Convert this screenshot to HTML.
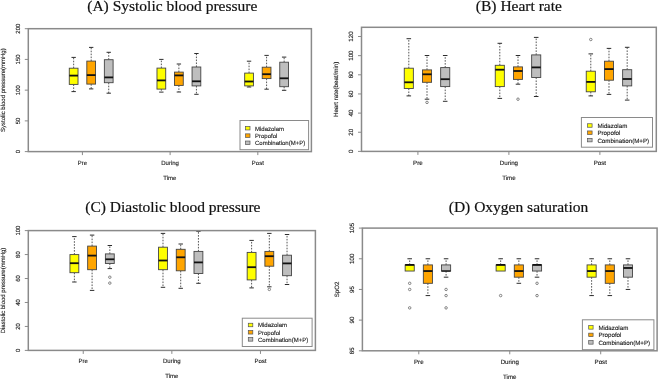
<!DOCTYPE html>
<html><head><meta charset="utf-8"><style>
html,body{margin:0;padding:0;background:#fff;width:658px;height:379px;overflow:hidden}
svg{display:block;will-change:transform;filter:blur(0.3px)}
.ttl{font-family:"Liberation Serif",serif;font-size:15.5px;text-anchor:middle;fill:#111;stroke:#111;stroke-width:0.2}
.sm{font-family:"Liberation Sans",sans-serif;text-rendering:geometricPrecision;text-anchor:middle;fill:#1a1a1a;stroke:#1a1a1a;stroke-width:0.12}
.lt{text-anchor:start}
.wh{stroke:#444;stroke-width:0.9;stroke-dasharray:1.6 1.35}
.cap{stroke:#222;stroke-width:0.95}
.bx{stroke:#444;stroke-width:0.9}
.med{stroke:#111;stroke-width:1.8}
.out{fill:none;stroke:#555;stroke-width:0.7}
.frm{fill:none;stroke:#8a8a8a;stroke-width:1.5}
.tk{stroke:#8a8a8a;stroke-width:1}
.leg{fill:#fff;stroke:#8a8a8a;stroke-width:1.0}
.lsq{stroke:#555;stroke-width:0.7}
</style></head><body>
<svg width="658" height="379" viewBox="0 0 658 379">
<rect width="658" height="379" fill="#fff"/>
<text x="172.3" y="10.6" class="ttl">(A) Systolic blood pressure</text>
<line x1="73.65" y1="68.2" x2="73.65" y2="57.4" class="wh"/>
<line x1="73.65" y1="84.4" x2="73.65" y2="91.6" class="wh"/>
<line x1="71.47" y1="57.4" x2="75.83" y2="57.4" class="cap"/>
<line x1="71.47" y1="91.6" x2="75.83" y2="91.6" class="cap"/>
<rect x="69.28" y="68.2" width="8.74" height="16.2" fill="#ffff00" class="bx"/>
<line x1="69.28" y1="75.6" x2="78.02" y2="75.6" class="med"/>
<line x1="91.19" y1="61.1" x2="91.19" y2="47.4" class="wh"/>
<line x1="91.19" y1="84.1" x2="91.19" y2="88.9" class="wh"/>
<line x1="89.01" y1="47.4" x2="93.37" y2="47.4" class="cap"/>
<line x1="89.01" y1="88.9" x2="93.37" y2="88.9" class="cap"/>
<rect x="86.82" y="61.1" width="8.74" height="23" fill="#ffa500" class="bx"/>
<line x1="86.82" y1="75.1" x2="95.56" y2="75.1" class="med"/>
<line x1="108.73" y1="59.7" x2="108.73" y2="52.3" class="wh"/>
<line x1="108.73" y1="82.7" x2="108.73" y2="93.2" class="wh"/>
<line x1="106.55" y1="52.3" x2="110.91" y2="52.3" class="cap"/>
<line x1="106.55" y1="93.2" x2="110.91" y2="93.2" class="cap"/>
<rect x="104.36" y="59.7" width="8.74" height="23" fill="#bebebe" class="bx"/>
<line x1="104.36" y1="77.4" x2="113.1" y2="77.4" class="med"/>
<line x1="161.35" y1="68.1" x2="161.35" y2="59.4" class="wh"/>
<line x1="161.35" y1="89.1" x2="161.35" y2="92.1" class="wh"/>
<line x1="159.17" y1="59.4" x2="163.53" y2="59.4" class="cap"/>
<line x1="159.17" y1="92.1" x2="163.53" y2="92.1" class="cap"/>
<rect x="156.98" y="68.1" width="8.74" height="21" fill="#ffff00" class="bx"/>
<line x1="156.98" y1="80.4" x2="165.72" y2="80.4" class="med"/>
<line x1="178.89" y1="72.1" x2="178.89" y2="64" class="wh"/>
<line x1="178.89" y1="85.4" x2="178.89" y2="92" class="wh"/>
<line x1="176.71" y1="64" x2="181.07" y2="64" class="cap"/>
<line x1="176.71" y1="92" x2="181.07" y2="92" class="cap"/>
<rect x="174.52" y="72.1" width="8.74" height="13.3" fill="#ffa500" class="bx"/>
<line x1="174.52" y1="75.4" x2="183.26" y2="75.4" class="med"/>
<line x1="196.43" y1="67" x2="196.43" y2="53.5" class="wh"/>
<line x1="196.43" y1="85.9" x2="196.43" y2="94.3" class="wh"/>
<line x1="194.25" y1="53.5" x2="198.61" y2="53.5" class="cap"/>
<line x1="194.25" y1="94.3" x2="198.61" y2="94.3" class="cap"/>
<rect x="192.06" y="67" width="8.74" height="18.9" fill="#bebebe" class="bx"/>
<line x1="192.06" y1="81.3" x2="200.8" y2="81.3" class="med"/>
<line x1="249.05" y1="73.1" x2="249.05" y2="61.2" class="wh"/>
<line x1="249.05" y1="85.9" x2="249.05" y2="87" class="wh"/>
<line x1="246.87" y1="61.2" x2="251.23" y2="61.2" class="cap"/>
<line x1="246.87" y1="87" x2="251.23" y2="87" class="cap"/>
<rect x="244.68" y="73.1" width="8.74" height="12.8" fill="#ffff00" class="bx"/>
<line x1="244.68" y1="81.5" x2="253.42" y2="81.5" class="med"/>
<line x1="266.59" y1="67.2" x2="266.59" y2="55.4" class="wh"/>
<line x1="266.59" y1="78.6" x2="266.59" y2="89.2" class="wh"/>
<line x1="264.41" y1="55.4" x2="268.77" y2="55.4" class="cap"/>
<line x1="264.41" y1="89.2" x2="268.77" y2="89.2" class="cap"/>
<rect x="262.22" y="67.2" width="8.74" height="11.4" fill="#ffa500" class="bx"/>
<line x1="262.22" y1="74.2" x2="270.96" y2="74.2" class="med"/>
<line x1="284.13" y1="62.2" x2="284.13" y2="57.1" class="wh"/>
<line x1="284.13" y1="86.7" x2="284.13" y2="90.3" class="wh"/>
<line x1="281.95" y1="57.1" x2="286.31" y2="57.1" class="cap"/>
<line x1="281.95" y1="90.3" x2="286.31" y2="90.3" class="cap"/>
<rect x="279.76" y="62.2" width="8.74" height="24.5" fill="#bebebe" class="bx"/>
<line x1="279.76" y1="78.3" x2="288.5" y2="78.3" class="med"/>
<rect x="28.3" y="28.7" width="283.1" height="122.9" class="frm"/>
<line x1="24.8" y1="151.6" x2="28.3" y2="151.6" class="tk"/>
<text transform="translate(19.55,151.6) rotate(-90)" class="sm" style="font-size:6.0px">0</text>
<line x1="24.8" y1="120.88" x2="28.3" y2="120.88" class="tk"/>
<text transform="translate(19.55,120.88) rotate(-90)" class="sm" style="font-size:6.0px">50</text>
<line x1="24.8" y1="90.15" x2="28.3" y2="90.15" class="tk"/>
<text transform="translate(19.55,90.15) rotate(-90)" class="sm" style="font-size:6.0px">100</text>
<line x1="24.8" y1="59.42" x2="28.3" y2="59.42" class="tk"/>
<text transform="translate(19.55,59.42) rotate(-90)" class="sm" style="font-size:6.0px">150</text>
<line x1="24.8" y1="28.7" x2="28.3" y2="28.7" class="tk"/>
<text transform="translate(19.55,28.7) rotate(-90)" class="sm" style="font-size:6.0px">200</text>
<text transform="translate(4.7,90.15) rotate(-90)" class="sm" style="font-size:6.0px">Systolic blood pressure(mmHg)</text>
<line x1="82.42" y1="151.6" x2="82.42" y2="155.1" class="tk"/>
<text x="82.42" y="165" class="sm" style="font-size:6.0px">Pre</text>
<line x1="170.12" y1="151.6" x2="170.12" y2="155.1" class="tk"/>
<text x="170.12" y="165" class="sm" style="font-size:6.0px">During</text>
<line x1="257.82" y1="151.6" x2="257.82" y2="155.1" class="tk"/>
<text x="257.82" y="165" class="sm" style="font-size:6.0px">Post</text>
<text x="169.85" y="179.9" class="sm" style="font-size:6.0px">Time</text>
<rect x="240" y="120.5" width="68.6" height="29.2" class="leg"/>
<rect x="245.5" y="126.45" width="4.5" height="3.5" fill="#ffff00" class="lsq"/>
<text x="255" y="130.65" class="sm lt" style="font-size:6.0px">Midazolam</text>
<rect x="245.5" y="133.85" width="4.5" height="3.5" fill="#ffa500" class="lsq"/>
<text x="255" y="138.05" class="sm lt" style="font-size:6.0px">Propofol</text>
<rect x="245.5" y="141.05" width="4.5" height="3.5" fill="#bebebe" class="lsq"/>
<text x="255" y="145.25" class="sm lt" style="font-size:6.0px">Combination(M+P)</text>
<text x="518.9" y="10.6" class="ttl">(B) Heart rate</text>
<line x1="408.81" y1="68.2" x2="408.81" y2="38.7" class="wh"/>
<line x1="408.81" y1="88.5" x2="408.81" y2="95.9" class="wh"/>
<line x1="406.54" y1="38.7" x2="411.09" y2="38.7" class="cap"/>
<line x1="406.54" y1="95.9" x2="411.09" y2="95.9" class="cap"/>
<rect x="404.26" y="68.2" width="9.1" height="20.3" fill="#ffff00" class="bx"/>
<line x1="404.26" y1="82.3" x2="413.36" y2="82.3" class="med"/>
<line x1="427.01" y1="69.9" x2="427.01" y2="55.5" class="wh"/>
<line x1="427.01" y1="82.3" x2="427.01" y2="99.2" class="wh"/>
<line x1="424.74" y1="55.5" x2="429.29" y2="55.5" class="cap"/>
<line x1="424.74" y1="99.2" x2="429.29" y2="99.2" class="cap"/>
<rect x="422.46" y="69.9" width="9.1" height="12.4" fill="#ffa500" class="bx"/>
<line x1="422.46" y1="74.3" x2="431.56" y2="74.3" class="med"/>
<circle cx="427.01" cy="102.4" r="1.25" class="out"/>
<line x1="445.21" y1="67.6" x2="445.21" y2="55.5" class="wh"/>
<line x1="445.21" y1="86.6" x2="445.21" y2="101.3" class="wh"/>
<line x1="442.93" y1="55.5" x2="447.48" y2="55.5" class="cap"/>
<line x1="442.93" y1="101.3" x2="447.48" y2="101.3" class="cap"/>
<rect x="440.66" y="67.6" width="9.1" height="19" fill="#bebebe" class="bx"/>
<line x1="440.66" y1="79.2" x2="449.76" y2="79.2" class="med"/>
<line x1="499.8" y1="65.3" x2="499.8" y2="43.3" class="wh"/>
<line x1="499.8" y1="86.6" x2="499.8" y2="98.4" class="wh"/>
<line x1="497.53" y1="43.3" x2="502.08" y2="43.3" class="cap"/>
<line x1="497.53" y1="98.4" x2="502.08" y2="98.4" class="cap"/>
<rect x="495.25" y="65.3" width="9.1" height="21.3" fill="#ffff00" class="bx"/>
<line x1="495.25" y1="69.7" x2="504.35" y2="69.7" class="med"/>
<line x1="518" y1="66.9" x2="518" y2="55.5" class="wh"/>
<line x1="518" y1="79.4" x2="518" y2="84.2" class="wh"/>
<line x1="515.72" y1="55.5" x2="520.27" y2="55.5" class="cap"/>
<line x1="515.72" y1="84.2" x2="520.27" y2="84.2" class="cap"/>
<rect x="513.45" y="66.9" width="9.1" height="12.5" fill="#ffa500" class="bx"/>
<line x1="513.45" y1="71" x2="522.55" y2="71" class="med"/>
<circle cx="518" cy="99.2" r="1.25" class="out"/>
<line x1="536.2" y1="54.9" x2="536.2" y2="37.4" class="wh"/>
<line x1="536.2" y1="77.5" x2="536.2" y2="96.5" class="wh"/>
<line x1="533.92" y1="37.4" x2="538.47" y2="37.4" class="cap"/>
<line x1="533.92" y1="96.5" x2="538.47" y2="96.5" class="cap"/>
<rect x="531.65" y="54.9" width="9.1" height="22.6" fill="#bebebe" class="bx"/>
<line x1="531.65" y1="67.4" x2="540.75" y2="67.4" class="med"/>
<line x1="590.79" y1="71.2" x2="590.79" y2="53.9" class="wh"/>
<line x1="590.79" y1="91.8" x2="590.79" y2="95.9" class="wh"/>
<line x1="588.51" y1="53.9" x2="593.06" y2="53.9" class="cap"/>
<line x1="588.51" y1="95.9" x2="593.06" y2="95.9" class="cap"/>
<rect x="586.24" y="71.2" width="9.1" height="20.6" fill="#ffff00" class="bx"/>
<line x1="586.24" y1="81.9" x2="595.34" y2="81.9" class="med"/>
<circle cx="590.79" cy="39.5" r="1.25" class="out"/>
<line x1="608.99" y1="61.2" x2="608.99" y2="48.4" class="wh"/>
<line x1="608.99" y1="80.2" x2="608.99" y2="94.4" class="wh"/>
<line x1="606.71" y1="48.4" x2="611.26" y2="48.4" class="cap"/>
<line x1="606.71" y1="94.4" x2="611.26" y2="94.4" class="cap"/>
<rect x="604.44" y="61.2" width="9.1" height="19" fill="#ffa500" class="bx"/>
<line x1="604.44" y1="69.1" x2="613.54" y2="69.1" class="med"/>
<line x1="627.18" y1="69.7" x2="627.18" y2="47.3" class="wh"/>
<line x1="627.18" y1="85.9" x2="627.18" y2="100.1" class="wh"/>
<line x1="624.91" y1="47.3" x2="629.46" y2="47.3" class="cap"/>
<line x1="624.91" y1="100.1" x2="629.46" y2="100.1" class="cap"/>
<rect x="622.63" y="69.7" width="9.1" height="16.2" fill="#bebebe" class="bx"/>
<line x1="622.63" y1="79" x2="631.73" y2="79" class="med"/>
<rect x="361.5" y="27.3" width="294.8" height="124.1" class="frm"/>
<line x1="358" y1="151.4" x2="361.5" y2="151.4" class="tk"/>
<text transform="translate(352.82,151.4) rotate(-90)" class="sm" style="font-size:6.2px">0</text>
<line x1="358" y1="132.25" x2="361.5" y2="132.25" class="tk"/>
<text transform="translate(352.82,132.25) rotate(-90)" class="sm" style="font-size:6.2px">20</text>
<line x1="358" y1="113.1" x2="361.5" y2="113.1" class="tk"/>
<text transform="translate(352.82,113.1) rotate(-90)" class="sm" style="font-size:6.2px">40</text>
<line x1="358" y1="93.95" x2="361.5" y2="93.95" class="tk"/>
<text transform="translate(352.82,93.95) rotate(-90)" class="sm" style="font-size:6.2px">60</text>
<line x1="358" y1="74.8" x2="361.5" y2="74.8" class="tk"/>
<text transform="translate(352.82,74.8) rotate(-90)" class="sm" style="font-size:6.2px">80</text>
<line x1="358" y1="55.65" x2="361.5" y2="55.65" class="tk"/>
<text transform="translate(352.82,55.65) rotate(-90)" class="sm" style="font-size:6.2px">100</text>
<line x1="358" y1="36.5" x2="361.5" y2="36.5" class="tk"/>
<text transform="translate(352.82,36.5) rotate(-90)" class="sm" style="font-size:6.2px">120</text>
<text transform="translate(337.9,89.35) rotate(-90)" class="sm" style="font-size:6.2px">Heart rate(beat/min)</text>
<line x1="417.91" y1="151.4" x2="417.91" y2="154.9" class="tk"/>
<text x="417.91" y="165.1" class="sm" style="font-size:6.2px">Pre</text>
<line x1="508.9" y1="151.4" x2="508.9" y2="154.9" class="tk"/>
<text x="508.9" y="165.1" class="sm" style="font-size:6.2px">During</text>
<line x1="599.89" y1="151.4" x2="599.89" y2="154.9" class="tk"/>
<text x="599.89" y="165.1" class="sm" style="font-size:6.2px">Post</text>
<text x="508.9" y="179.9" class="sm" style="font-size:6.2px">Time</text>
<rect x="581.4" y="117.5" width="71.1" height="29.7" class="leg"/>
<rect x="587.6" y="123.75" width="4.5" height="3.5" fill="#ffff00" class="lsq"/>
<text x="597.4" y="128.02" class="sm lt" style="font-size:6.2px">Midazolam</text>
<rect x="587.6" y="130.95" width="4.5" height="3.5" fill="#ffa500" class="lsq"/>
<text x="597.4" y="135.22" class="sm lt" style="font-size:6.2px">Propofol</text>
<rect x="587.6" y="138.35" width="4.5" height="3.5" fill="#bebebe" class="lsq"/>
<text x="597.4" y="142.62" class="sm lt" style="font-size:6.2px">Combination(M+P)</text>
<text x="172.9" y="211.7" class="ttl">(C) Diastolic blood pressure</text>
<line x1="74.38" y1="254.6" x2="74.38" y2="236.6" class="wh"/>
<line x1="74.38" y1="272.7" x2="74.38" y2="282" class="wh"/>
<line x1="72.16" y1="236.6" x2="76.59" y2="236.6" class="cap"/>
<line x1="72.16" y1="282" x2="76.59" y2="282" class="cap"/>
<rect x="69.95" y="254.6" width="8.86" height="18.1" fill="#ffff00" class="bx"/>
<line x1="69.95" y1="263.2" x2="78.81" y2="263.2" class="med"/>
<line x1="92.1" y1="246.1" x2="92.1" y2="235.1" class="wh"/>
<line x1="92.1" y1="269.7" x2="92.1" y2="290.4" class="wh"/>
<line x1="89.88" y1="235.1" x2="94.32" y2="235.1" class="cap"/>
<line x1="89.88" y1="290.4" x2="94.32" y2="290.4" class="cap"/>
<rect x="87.67" y="246.1" width="8.86" height="23.6" fill="#ffa500" class="bx"/>
<line x1="87.67" y1="255.6" x2="96.53" y2="255.6" class="med"/>
<line x1="109.82" y1="253.9" x2="109.82" y2="245.5" class="wh"/>
<line x1="109.82" y1="263.5" x2="109.82" y2="268.6" class="wh"/>
<line x1="107.61" y1="245.5" x2="112.04" y2="245.5" class="cap"/>
<line x1="107.61" y1="268.6" x2="112.04" y2="268.6" class="cap"/>
<rect x="105.39" y="253.9" width="8.86" height="9.6" fill="#bebebe" class="bx"/>
<line x1="105.39" y1="259.3" x2="114.25" y2="259.3" class="med"/>
<circle cx="109.82" cy="277.2" r="1.25" class="out"/>
<circle cx="109.82" cy="283.1" r="1.25" class="out"/>
<line x1="162.99" y1="247.2" x2="162.99" y2="233.4" class="wh"/>
<line x1="162.99" y1="269.7" x2="162.99" y2="287.3" class="wh"/>
<line x1="160.77" y1="233.4" x2="165.2" y2="233.4" class="cap"/>
<line x1="160.77" y1="287.3" x2="165.2" y2="287.3" class="cap"/>
<rect x="158.56" y="247.2" width="8.86" height="22.5" fill="#ffff00" class="bx"/>
<line x1="158.56" y1="260.5" x2="167.42" y2="260.5" class="med"/>
<line x1="180.71" y1="249.3" x2="180.71" y2="244" class="wh"/>
<line x1="180.71" y1="270.8" x2="180.71" y2="288.3" class="wh"/>
<line x1="178.5" y1="244" x2="182.93" y2="244" class="cap"/>
<line x1="178.5" y1="288.3" x2="182.93" y2="288.3" class="cap"/>
<rect x="176.28" y="249.3" width="8.86" height="21.5" fill="#ffa500" class="bx"/>
<line x1="176.28" y1="257.3" x2="185.14" y2="257.3" class="med"/>
<line x1="198.43" y1="251.4" x2="198.43" y2="231.3" class="wh"/>
<line x1="198.43" y1="273.5" x2="198.43" y2="283.3" class="wh"/>
<line x1="196.22" y1="231.3" x2="200.65" y2="231.3" class="cap"/>
<line x1="196.22" y1="283.3" x2="200.65" y2="283.3" class="cap"/>
<rect x="194" y="251.4" width="8.86" height="22.1" fill="#bebebe" class="bx"/>
<line x1="194" y1="262.4" x2="202.86" y2="262.4" class="med"/>
<line x1="251.6" y1="252.4" x2="251.6" y2="240.4" class="wh"/>
<line x1="251.6" y1="279.9" x2="251.6" y2="287.9" class="wh"/>
<line x1="249.38" y1="240.4" x2="253.82" y2="240.4" class="cap"/>
<line x1="249.38" y1="287.9" x2="253.82" y2="287.9" class="cap"/>
<rect x="247.17" y="252.4" width="8.86" height="27.5" fill="#ffff00" class="bx"/>
<line x1="247.17" y1="267.2" x2="256.03" y2="267.2" class="med"/>
<line x1="269.32" y1="251.4" x2="269.32" y2="233.4" class="wh"/>
<line x1="269.32" y1="266.2" x2="269.32" y2="286.8" class="wh"/>
<line x1="267.11" y1="233.4" x2="271.54" y2="233.4" class="cap"/>
<line x1="267.11" y1="286.8" x2="271.54" y2="286.8" class="cap"/>
<rect x="264.89" y="251.4" width="8.86" height="14.8" fill="#ffa500" class="bx"/>
<line x1="264.89" y1="256.2" x2="273.75" y2="256.2" class="med"/>
<circle cx="269.32" cy="289.4" r="1.25" class="out"/>
<line x1="287.04" y1="255.2" x2="287.04" y2="234.5" class="wh"/>
<line x1="287.04" y1="275.7" x2="287.04" y2="284.5" class="wh"/>
<line x1="284.83" y1="234.5" x2="289.26" y2="234.5" class="cap"/>
<line x1="284.83" y1="284.5" x2="289.26" y2="284.5" class="cap"/>
<rect x="282.61" y="255.2" width="8.86" height="20.5" fill="#bebebe" class="bx"/>
<line x1="282.61" y1="263.4" x2="291.47" y2="263.4" class="med"/>
<rect x="28.3" y="230.6" width="287.1" height="119.8" class="frm"/>
<line x1="24.8" y1="350.4" x2="28.3" y2="350.4" class="tk"/>
<text transform="translate(19.55,350.4) rotate(-90)" class="sm" style="font-size:6.0px">0</text>
<line x1="24.8" y1="326.44" x2="28.3" y2="326.44" class="tk"/>
<text transform="translate(19.55,326.44) rotate(-90)" class="sm" style="font-size:6.0px">20</text>
<line x1="24.8" y1="302.48" x2="28.3" y2="302.48" class="tk"/>
<text transform="translate(19.55,302.48) rotate(-90)" class="sm" style="font-size:6.0px">40</text>
<line x1="24.8" y1="278.52" x2="28.3" y2="278.52" class="tk"/>
<text transform="translate(19.55,278.52) rotate(-90)" class="sm" style="font-size:6.0px">60</text>
<line x1="24.8" y1="254.56" x2="28.3" y2="254.56" class="tk"/>
<text transform="translate(19.55,254.56) rotate(-90)" class="sm" style="font-size:6.0px">80</text>
<line x1="24.8" y1="230.6" x2="28.3" y2="230.6" class="tk"/>
<text transform="translate(19.55,230.6) rotate(-90)" class="sm" style="font-size:6.0px">100</text>
<text transform="translate(4.7,290.5) rotate(-90)" class="sm" style="font-size:6.0px">Diastolic blood pressure(mmHg)</text>
<line x1="83.24" y1="350.4" x2="83.24" y2="353.9" class="tk"/>
<text x="83.24" y="363.3" class="sm" style="font-size:6.0px">Pre</text>
<line x1="171.85" y1="350.4" x2="171.85" y2="353.9" class="tk"/>
<text x="171.85" y="363.3" class="sm" style="font-size:6.0px">During</text>
<line x1="260.46" y1="350.4" x2="260.46" y2="353.9" class="tk"/>
<text x="260.46" y="363.3" class="sm" style="font-size:6.0px">Post</text>
<text x="171.85" y="377.6" class="sm" style="font-size:6.0px">Time</text>
<rect x="242.3" y="318.2" width="69.8" height="28.3" class="leg"/>
<rect x="248.3" y="323.25" width="4.5" height="3.5" fill="#ffff00" class="lsq"/>
<text x="258" y="327.45" class="sm lt" style="font-size:6.0px">Midazolam</text>
<rect x="248.3" y="330.55" width="4.5" height="3.5" fill="#ffa500" class="lsq"/>
<text x="258" y="334.75" class="sm lt" style="font-size:6.0px">Propofol</text>
<rect x="248.3" y="337.65" width="4.5" height="3.5" fill="#bebebe" class="lsq"/>
<text x="258" y="341.85" class="sm lt" style="font-size:6.0px">Combination(M+P)</text>
<text x="518.5" y="211.5" class="ttl">(D) Oxygen saturation</text>
<line x1="409.7" y1="264.91" x2="409.7" y2="258.78" class="wh"/>
<line x1="407.42" y1="258.78" x2="411.97" y2="258.78" class="cap"/>
<rect x="405.15" y="264.91" width="9.1" height="6.13" fill="#ffff00" class="bx"/>
<line x1="405.15" y1="264.91" x2="414.25" y2="264.91" class="med"/>
<circle cx="409.7" cy="283.31" r="1.25" class="out"/>
<circle cx="409.7" cy="289.45" r="1.25" class="out"/>
<circle cx="409.7" cy="307.86" r="1.25" class="out"/>
<line x1="427.89" y1="264.91" x2="427.89" y2="258.78" class="wh"/>
<line x1="427.89" y1="283.31" x2="427.89" y2="295.59" class="wh"/>
<line x1="425.61" y1="258.78" x2="430.16" y2="258.78" class="cap"/>
<line x1="425.61" y1="295.59" x2="430.16" y2="295.59" class="cap"/>
<rect x="423.34" y="264.91" width="9.1" height="18.4" fill="#ffa500" class="bx"/>
<line x1="423.34" y1="271.05" x2="432.44" y2="271.05" class="med"/>
<line x1="446.08" y1="264.91" x2="446.08" y2="258.78" class="wh"/>
<line x1="446.08" y1="271.05" x2="446.08" y2="277.18" class="wh"/>
<line x1="443.81" y1="258.78" x2="448.35" y2="258.78" class="cap"/>
<line x1="443.81" y1="277.18" x2="448.35" y2="277.18" class="cap"/>
<rect x="441.53" y="264.91" width="9.1" height="6.13" fill="#bebebe" class="bx"/>
<line x1="441.53" y1="271.05" x2="450.63" y2="271.05" class="med" style="stroke-width:1.3"/>
<circle cx="446.08" cy="289.45" r="1.25" class="out"/>
<circle cx="446.08" cy="295.59" r="1.25" class="out"/>
<circle cx="446.08" cy="307.86" r="1.25" class="out"/>
<line x1="500.65" y1="264.91" x2="500.65" y2="258.78" class="wh"/>
<line x1="498.38" y1="258.78" x2="502.93" y2="258.78" class="cap"/>
<rect x="496.11" y="264.91" width="9.1" height="6.13" fill="#ffff00" class="bx"/>
<line x1="496.11" y1="264.91" x2="505.2" y2="264.91" class="med"/>
<circle cx="500.65" cy="295.59" r="1.25" class="out"/>
<line x1="518.85" y1="264.91" x2="518.85" y2="258.78" class="wh"/>
<line x1="518.85" y1="277.18" x2="518.85" y2="283.31" class="wh"/>
<line x1="516.57" y1="258.78" x2="521.12" y2="258.78" class="cap"/>
<line x1="516.57" y1="283.31" x2="521.12" y2="283.31" class="cap"/>
<rect x="514.3" y="264.91" width="9.1" height="12.27" fill="#ffa500" class="bx"/>
<line x1="514.3" y1="271.05" x2="523.39" y2="271.05" class="med"/>
<line x1="537.04" y1="264.91" x2="537.04" y2="258.78" class="wh"/>
<line x1="537.04" y1="271.05" x2="537.04" y2="277.18" class="wh"/>
<line x1="534.76" y1="258.78" x2="539.31" y2="258.78" class="cap"/>
<line x1="534.76" y1="277.18" x2="539.31" y2="277.18" class="cap"/>
<rect x="532.49" y="264.91" width="9.1" height="6.13" fill="#bebebe" class="bx"/>
<line x1="532.49" y1="264.91" x2="541.58" y2="264.91" class="med"/>
<circle cx="537.04" cy="283.31" r="1.25" class="out"/>
<circle cx="537.04" cy="295.59" r="1.25" class="out"/>
<line x1="591.61" y1="264.91" x2="591.61" y2="258.78" class="wh"/>
<line x1="591.61" y1="277.18" x2="591.61" y2="295.59" class="wh"/>
<line x1="589.34" y1="258.78" x2="593.89" y2="258.78" class="cap"/>
<line x1="589.34" y1="295.59" x2="593.89" y2="295.59" class="cap"/>
<rect x="587.06" y="264.91" width="9.1" height="12.27" fill="#ffff00" class="bx"/>
<line x1="587.06" y1="271.05" x2="596.16" y2="271.05" class="med"/>
<line x1="609.8" y1="264.91" x2="609.8" y2="258.78" class="wh"/>
<line x1="609.8" y1="283.31" x2="609.8" y2="295.59" class="wh"/>
<line x1="607.53" y1="258.78" x2="612.08" y2="258.78" class="cap"/>
<line x1="607.53" y1="295.59" x2="612.08" y2="295.59" class="cap"/>
<rect x="605.25" y="264.91" width="9.1" height="18.4" fill="#ffa500" class="bx"/>
<line x1="605.25" y1="271.05" x2="614.35" y2="271.05" class="med"/>
<line x1="627.99" y1="264.91" x2="627.99" y2="258.78" class="wh"/>
<line x1="627.99" y1="277.18" x2="627.99" y2="289.45" class="wh"/>
<line x1="625.72" y1="258.78" x2="630.27" y2="258.78" class="cap"/>
<line x1="625.72" y1="289.45" x2="630.27" y2="289.45" class="cap"/>
<rect x="623.45" y="264.91" width="9.1" height="12.27" fill="#bebebe" class="bx"/>
<line x1="623.45" y1="267.98" x2="632.54" y2="267.98" class="med"/>
<rect x="362.4" y="228.1" width="294.7" height="122.7" class="frm"/>
<line x1="358.9" y1="350.8" x2="362.4" y2="350.8" class="tk"/>
<text transform="translate(353.72,350.8) rotate(-90)" class="sm" style="font-size:6.2px">85</text>
<line x1="358.9" y1="320.12" x2="362.4" y2="320.12" class="tk"/>
<text transform="translate(353.72,320.12) rotate(-90)" class="sm" style="font-size:6.2px">90</text>
<line x1="358.9" y1="289.45" x2="362.4" y2="289.45" class="tk"/>
<text transform="translate(353.72,289.45) rotate(-90)" class="sm" style="font-size:6.2px">95</text>
<line x1="358.9" y1="258.77" x2="362.4" y2="258.77" class="tk"/>
<text transform="translate(353.72,258.77) rotate(-90)" class="sm" style="font-size:6.2px">100</text>
<line x1="358.9" y1="228.1" x2="362.4" y2="228.1" class="tk"/>
<text transform="translate(353.72,228.1) rotate(-90)" class="sm" style="font-size:6.2px">105</text>
<text transform="translate(338.8,289.45) rotate(-90)" class="sm" style="font-size:6.2px">SpO2</text>
<line x1="418.79" y1="350.8" x2="418.79" y2="354.3" class="tk"/>
<text x="418.79" y="364.2" class="sm" style="font-size:6.2px">Pre</text>
<line x1="509.75" y1="350.8" x2="509.75" y2="354.3" class="tk"/>
<text x="509.75" y="364.2" class="sm" style="font-size:6.2px">During</text>
<line x1="600.71" y1="350.8" x2="600.71" y2="354.3" class="tk"/>
<text x="600.71" y="364.2" class="sm" style="font-size:6.2px">Post</text>
<text x="509.75" y="378.6" class="sm" style="font-size:6.2px">Time</text>
<rect x="582.4" y="319.8" width="71.5" height="29.9" class="leg"/>
<rect x="588.7" y="325.65" width="4.4" height="3.5" fill="#ffff00" class="lsq"/>
<text x="598.4" y="329.92" class="sm lt" style="font-size:6.2px">Midazolam</text>
<rect x="588.7" y="333.15" width="4.4" height="3.5" fill="#ffa500" class="lsq"/>
<text x="598.4" y="337.42" class="sm lt" style="font-size:6.2px">Propofol</text>
<rect x="588.7" y="340.65" width="4.4" height="3.5" fill="#bebebe" class="lsq"/>
<text x="598.4" y="344.92" class="sm lt" style="font-size:6.2px">Combination(M+P)</text>
</svg>
</body></html>
